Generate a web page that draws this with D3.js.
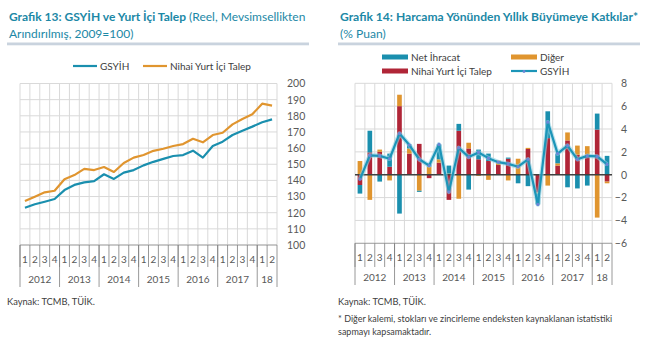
<!DOCTYPE html>
<html><head><meta charset="utf-8">
<script src="https://cdn.jsdelivr.net/npm/d3@7"></script>
<style>
body{margin:0;background:#fff}
svg{display:block}
text{font-family:Lato,"Open Sans",sans-serif}
</style>
</head><body>
<svg id="c" width="655" height="344"></svg>
<script>
// ---------------- DATA ----------------
const periods = ["2012Q1","2012Q2","2012Q3","2012Q4","2013Q1","2013Q2","2013Q3","2013Q4",
  "2014Q1","2014Q2","2014Q3","2014Q4","2015Q1","2015Q2","2015Q3","2015Q4",
  "2016Q1","2016Q2","2016Q3","2016Q4","2017Q1","2017Q2","2017Q3","2017Q4","2018Q1","2018Q2"];
const quarterLabels = ["1","2","3","4","1","2","3","4","1","2","3","4","1","2","3","4",
  "1","2","3","4","1","2","3","4","1","2"];
const yearLabels = ["2012","2013","2014","2015","2016","2017","18"];
const yearSpans = [4,4,4,4,4,4,2];

// Grafik 13 (index, 2009=100)
const gsyihIndex = [123.1,125.2,126.8,128.5,134.0,137.2,138.8,139.6,143.8,140.9,144.8,146.4,149.3,
  151.5,153.3,155.1,155.7,158.4,154.1,161.3,164.0,168.1,170.8,173.3,176.0,177.8];
const nihaiIndex = [127.2,129.9,132.6,133.6,140.7,143.3,147.1,146.4,148.3,145.2,150.8,154.1,155.7,
  158.3,159.6,161.3,162.5,165.8,163.6,168.1,169.5,174.7,178.0,180.9,187.5,186.3];
const leftTicks = [100,110,120,130,140,150,160,170,180,190,200];

// Grafik 14 (contributions, % points)
const nihaiContrib = [-0.9,1.95,2.0,0.7,6.0,1.85,2.7,-0.3,1.05,-2.2,3.85,2.3,1.35,
  1.2,0.85,1.4,0.05,2.25,-1.55,3.2,0.8,3.0,1.75,1.75,3.95,-0.6];
const digerContrib = [1.2,-2.2,0.2,-0.5,1.0,0.45,-1.4,0.7,0.3,0.1,-2.1,0.5,-0.1,
  -0.45,0.4,-0.5,1.35,0.1,-0.1,-0.95,0.2,0.7,0.8,0.75,-3.75,-0.15];
const netIhracatContrib = [-0.75,1.9,-0.6,1.15,-3.4,0.35,-0.1,0.3,1.3,0.7,0.6,-1.3,0.85,
  0.65,0.0,0.1,-0.75,-1.0,-0.95,2.35,0.85,-1.1,-1.2,-0.95,1.4,1.65];
const gsyihGrowth = [-0.4,1.7,1.65,1.4,3.6,2.6,1.35,0.8,2.65,-1.5,2.35,1.55,1.95,
  1.45,1.1,0.95,0.7,1.35,-2.6,4.6,1.85,2.55,1.35,1.65,1.6,0.9];
const rightTicks = [-6,-4,-2,0,2,4,6,8];

// ---------------- STYLE ----------------
const C_TEAL = "#1a8fae", C_ORANGE = "#e0952f", C_RED = "#b02537";
const C_TITLE = "#1c88a6", C_GRID = "#d9d9d9", C_TXT = "#595959", C_DARK = "#404040";

const svg = d3.select("#c");

// ---------------- TITLES ----------------
function title(x, lines, size) {
  lines.forEach((ln, i) => {
    const t = svg.append("text").attr("x", x).attr("y", 21 + i * 16.5)
      .attr("font-size", size).attr("fill", C_TITLE);
    ln.forEach(seg => t.append("tspan").attr("font-weight", seg.b ? 700 : 400).text(seg.t));
  });
}
title(9, [[{t:"Grafik 13: GSYİH ve Yurt İçi Talep", b:true},{t:" (Reel, Mevsimsellikten"}],
          [{t:"Arındırılmış, 2009=100)"}]], 12);
title(340, [[{t:"Grafik 14: Harcama Yönünden Yıllık Büyümeye Katkılar*", b:true}],
            [{t:"(% Puan)"}]], 12.1);
svg.append("rect").attr("x",7).attr("y",42.5).attr("width",302).attr("height",2.8).attr("fill","#c9d3de");
svg.append("rect").attr("x",338).attr("y",42.5).attr("width",302).attr("height",2.8).attr("fill","#c9d3de");

// ---------------- CATEGORY AXIS helper ----------------
function categoryAxis(g, x, yBase, qY, yrY, qBottom, yrBottom) {
  const step = x.step();
  const x0 = x.range()[0];
  periods.forEach((p, i) => {
    g.append("line").attr("x1", x0 + i*step).attr("x2", x0 + i*step)
      .attr("y1", yBase).attr("y2", qBottom).attr("stroke", "#7f7f7f").attr("stroke-width", 0.8);
  });
  g.selectAll(".ql").data(periods).join("text")
    .attr("x", d => x(d) + step/2).attr("y", qY).attr("text-anchor","middle")
    .attr("font-size", 10).attr("fill", C_TXT).text((d,i) => quarterLabels[i]);
  let acc = 0;
  const bounds = [0];
  yearSpans.forEach(s => { acc += s; bounds.push(acc); });
  bounds.forEach(b => {
    g.append("line").attr("x1", x0 + b*step).attr("x2", x0 + b*step)
      .attr("y1", yBase).attr("y2", yrBottom).attr("stroke", "#7f7f7f").attr("stroke-width", 0.8);
  });
  yearLabels.forEach((lab, k) => {
    g.append("text").attr("x", x0 + (bounds[k] + bounds[k+1]) / 2 * step).attr("y", yrY)
      .attr("text-anchor","middle").attr("font-size", 10).attr("fill", C_TXT).text(lab);
  });
}

// ---------------- CHART 13 ----------------
{
  const L = 20, R = 277, T = 83.5, B = 245;
  const x = d3.scaleBand().domain(periods).range([L, R]).padding(0);
  const y = d3.scaleLinear().domain([100, 200]).range([B, T]);
  const g = svg.append("g");
  g.selectAll(".hg").data(leftTicks).join("line")
    .attr("x1", L).attr("x2", R).attr("y1", d => y(d)).attr("y2", d => y(d))
    .attr("stroke", C_GRID).attr("stroke-width", 1);
  d3.range(periods.length + 1).forEach(i => {
    g.append("line").attr("x1", L + i*x.step()).attr("x2", L + i*x.step())
      .attr("y1", T).attr("y2", B).attr("stroke", C_GRID).attr("stroke-width", 1);
  });
  const ax = g.append("g").attr("transform", `translate(${R},0)`)
    .call(d3.axisRight(y).tickValues(leftTicks).tickSize(0).tickPadding(10));
  ax.select(".domain").remove();
  ax.selectAll("text").attr("font-size", 10.5).attr("fill", C_TXT).attr("font-family","Lato");
  g.append("line").attr("x1", L).attr("x2", R).attr("y1", B).attr("y2", B).attr("stroke", "#a6a6a6");
  categoryAxis(g, x, B, 263, 283, 267, 287);
  const line = d3.line().x((d,i) => x(periods[i]) + x.step()/2).y(d => y(d));
  g.append("path").datum(nihaiIndex).attr("d", line).attr("fill","none")
    .attr("stroke", C_ORANGE).attr("stroke-width", 2.2).attr("stroke-linejoin","round");
  g.append("path").datum(gsyihIndex).attr("d", line).attr("fill","none")
    .attr("stroke", C_TEAL).attr("stroke-width", 2.2).attr("stroke-linejoin","round");
  const lg = [{n:"GSYİH", c:C_TEAL, x:73},{n:"Nihai Yurt İçi Talep", c:C_ORANGE, x:143}];
  lg.forEach(d => {
    g.append("line").attr("x1", d.x).attr("x2", d.x + 24).attr("y1", 66).attr("y2", 66)
      .attr("stroke", d.c).attr("stroke-width", 2.2);
    g.append("text").attr("x", d.x + 27).attr("y", 69.5).attr("font-size", 10)
      .attr("fill", C_DARK).text(d.n);
  });
}

// ---------------- CHART 14 ----------------
{
  const L = 355, R = 612, T = 83.3, B = 243.3;
  const x = d3.scaleBand().domain(periods).range([L, R]).padding(0);
  const y = d3.scaleLinear().domain([-6, 8]).range([B, T]);
  const g = svg.append("g");
  g.selectAll(".hg").data(rightTicks).join("line")
    .attr("x1", L).attr("x2", R).attr("y1", d => y(d)).attr("y2", d => y(d))
    .attr("stroke", C_GRID).attr("stroke-width", 1);
  d3.range(periods.length + 1).forEach(i => {
    g.append("line").attr("x1", L + i*x.step()).attr("x2", L + i*x.step())
      .attr("y1", T).attr("y2", B).attr("stroke", C_GRID).attr("stroke-width", 1);
  });
  const ax = g.append("g").attr("transform", `translate(${R},0)`)
    .call(d3.axisRight(y).tickValues(rightTicks).tickSize(0).tickPadding(15));
  ax.select(".domain").remove();
  ax.selectAll("text").attr("font-size", 10.5).attr("fill", C_TXT).attr("text-anchor","end")
    .attr("font-family","Lato");
  g.append("line").attr("x1", L).attr("x2", R).attr("y1", B).attr("y2", B).attr("stroke", "#a6a6a6");
  categoryAxis(g, x, B, 261, 281, 267, 285);

  const rows = periods.map((p, i) => ({p, nihai: nihaiContrib[i], diger: digerContrib[i], net: netIhracatContrib[i]}));
  const keys = ["nihai","diger","net"];
  const colors = {nihai: C_RED, diger: C_ORANGE, net: C_TEAL};
  const stack = d3.stack().keys(keys).offset(d3.stackOffsetDiverging)(rows);
  const bw = x.step() * 0.47;
  stack.forEach(s => {
    g.append("g").selectAll("rect").data(s).join("rect")
      .attr("x", d => x(d.data.p) + (x.step() - bw)/2)
      .attr("width", bw)
      .attr("y", d => y(Math.max(d[0], d[1])))
      .attr("height", d => Math.abs(y(d[0]) - y(d[1])))
      .attr("fill", colors[s.key]);
  });
  g.append("line").attr("x1", L).attr("x2", R).attr("y1", y(0)).attr("y2", y(0))
    .attr("stroke", C_DARK).attr("stroke-width", 1.6);
  const line = d3.line().x((d,i) => x(periods[i]) + x.step()/2).y(d => y(d));
  g.append("path").datum(gsyihGrowth).attr("d", line).attr("fill","none")
    .attr("stroke", "#8fd0e2").attr("stroke-width", 4.5).attr("stroke-opacity", 0.6).attr("stroke-linejoin","round");
  g.append("path").datum(gsyihGrowth).attr("d", line).attr("fill","none")
    .attr("stroke", "#1c95b8").attr("stroke-width", 2.2).attr("stroke-linejoin","round");
  g.selectAll(".mk").data(gsyihGrowth).join("circle")
    .attr("cx", (d,i) => x(periods[i]) + x.step()/2).attr("cy", d => y(d)).attr("r", 1.6)
    .attr("fill", "#6c86d6");

  const lg = [
    {n:"Net İhracat", c:C_TEAL, x:382, y:57, t:"rect"},
    {n:"Diğer", c:C_ORANGE, x:511, y:57, t:"rect"},
    {n:"Nihai Yurt İçi Talep", c:C_RED, x:382, y:71, t:"rect"},
    {n:"GSYİH", c:"#1c95b8", x:511, y:71, t:"line"}];
  lg.forEach(d => {
    if (d.t === "rect") {
      g.append("rect").attr("x", d.x).attr("y", d.y - 2.5).attr("width", 26).attr("height", 5).attr("fill", d.c);
    } else {
      g.append("line").attr("x1", d.x).attr("x2", d.x + 26).attr("y1", d.y).attr("y2", d.y)
        .attr("stroke", d.c).attr("stroke-width", 2.2);
      g.append("circle").attr("cx", d.x + 13).attr("cy", d.y + 0.5).attr("r", 1.4).attr("fill", "#6c86d6");
    }
    g.append("text").attr("x", d.x + 29).attr("y", d.y + 3.5).attr("font-size", 10)
      .attr("fill", C_DARK).text(d.n);
  });
}

// ---------------- FOOTERS ----------------
svg.append("text").attr("x", 7).attr("y", 305).attr("font-size", 9.3).attr("fill", C_DARK).text("Kaynak: TCMB, TÜİK.");
svg.append("text").attr("x", 338).attr("y", 305).attr("font-size", 9.3).attr("fill", C_DARK).text("Kaynak: TCMB, TÜİK.");
svg.append("text").attr("x", 338).attr("y", 322).attr("font-size", 9.0).attr("fill", C_DARK)
  .text("* Diğer kalemi, stokları ve zincirleme endeksten kaynaklanan istatistiki");
svg.append("text").attr("x", 338).attr("y", 335).attr("font-size", 9.0).attr("fill", C_DARK)
  .text("sapmayı kapsamaktadır.");
</script>
</body></html>
